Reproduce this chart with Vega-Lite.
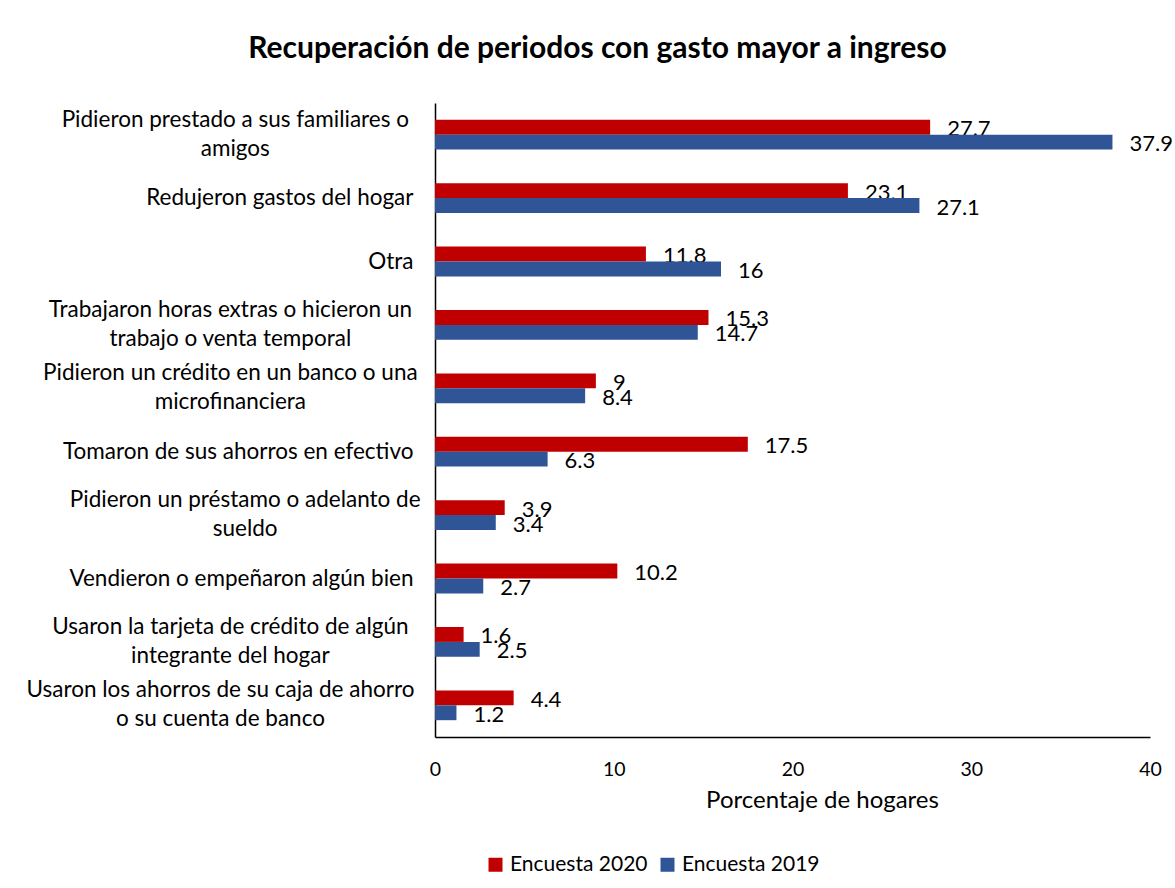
{
  "$schema": "https://vega.github.io/schema/vega-lite/v6.json",
  "width": 715,
  "height": 634,
  "autosize": {"type": "none"},
  "padding": {"left": 435, "top": 103, "right": 25, "bottom": 151},
  "background": "white",
  "title": {
    "text": "Recuperación de periodos con gasto mayor a ingreso",
    "font": "Lato",
    "fontSize": 30,
    "fontWeight": "bold",
    "color": "black",
    "anchor": "middle",
    "frame": "group",
    "baseline": "alphabetic",
    "offset": 15,
    "dx": -195
  },
  "data": {
    "values": [
      {"categoria": "Pidieron prestado a sus familiares o|amigos", "serie": "Encuesta 2020", "valor": 27.7},
      {"categoria": "Pidieron prestado a sus familiares o|amigos", "serie": "Encuesta 2019", "valor": 37.9},
      {"categoria": "Redujeron gastos del hogar", "serie": "Encuesta 2020", "valor": 23.1},
      {"categoria": "Redujeron gastos del hogar", "serie": "Encuesta 2019", "valor": 27.1},
      {"categoria": "Otra", "serie": "Encuesta 2020", "valor": 11.8},
      {"categoria": "Otra", "serie": "Encuesta 2019", "valor": 16},
      {"categoria": "Trabajaron horas extras o hicieron un|trabajo o venta temporal", "serie": "Encuesta 2020", "valor": 15.3},
      {"categoria": "Trabajaron horas extras o hicieron un|trabajo o venta temporal", "serie": "Encuesta 2019", "valor": 14.7},
      {"categoria": "Pidieron un crédito en un banco o una|microfinanciera", "serie": "Encuesta 2020", "valor": 9},
      {"categoria": "Pidieron un crédito en un banco o una|microfinanciera", "serie": "Encuesta 2019", "valor": 8.4},
      {"categoria": "Tomaron de sus ahorros en efectivo", "serie": "Encuesta 2020", "valor": 17.5},
      {"categoria": "Tomaron de sus ahorros en efectivo", "serie": "Encuesta 2019", "valor": 6.3},
      {"categoria": "Pidieron un préstamo o adelanto de|sueldo", "serie": "Encuesta 2020", "valor": 3.9},
      {"categoria": "Pidieron un préstamo o adelanto de|sueldo", "serie": "Encuesta 2019", "valor": 3.4},
      {"categoria": "Vendieron o empeñaron algún bien", "serie": "Encuesta 2020", "valor": 10.2},
      {"categoria": "Vendieron o empeñaron algún bien", "serie": "Encuesta 2019", "valor": 2.7},
      {"categoria": "Usaron la tarjeta de crédito de algún|integrante del hogar", "serie": "Encuesta 2020", "valor": 1.6},
      {"categoria": "Usaron la tarjeta de crédito de algún|integrante del hogar", "serie": "Encuesta 2019", "valor": 2.5},
      {"categoria": "Usaron los ahorros de su caja de ahorro|o su cuenta de banco", "serie": "Encuesta 2020", "valor": 4.4},
      {"categoria": "Usaron los ahorros de su caja de ahorro|o su cuenta de banco", "serie": "Encuesta 2019", "valor": 1.2}
    ]
  },
  "encoding": {
    "y": {
      "field": "categoria",
      "type": "nominal",
      "sort": null,
      "scale": {"paddingInner": 0.53, "paddingOuter": 0.265},
      "axis": {
        "title": null,
        "domainColor": "black",
        "domainWidth": 1.5,
        "ticks": false,
        "labelFont": "Lato",
        "labelFontSize": 22.5,
        "labelColor": "black",
        "labelLineHeight": 29,
        "labelLimit": 0,
        "labelOverlap": false,
        "labelBound": false,
        "labelExpr": "split(datum.value, '|')",
        "labelAlign": {"expr": "indexof(datum.value, '|') >= 0 ? 'center' : 'right'"},
        "labelBaseline": {"expr": "indexof(datum.value, '|') >= 0 ? 'line-bottom' : 'middle'"},
        "labelPadding": {"expr": "indexof(datum.value, '|') >= 0 ? 22 + 4.95 * max(length(split(datum.value, '|')[0]), length(split(datum.value, '|')[1])) : 22"}
      }
    },
    "yOffset": {"field": "serie", "type": "nominal", "sort": ["Encuesta 2020", "Encuesta 2019"]},
    "x": {
      "field": "valor",
      "type": "quantitative",
      "scale": {"domain": [0, 40], "nice": false},
      "axis": {
        "title": "Porcentaje de hogares",
        "titleFont": "Lato",
        "titleFontSize": 24,
        "titleFontWeight": "normal",
        "titleColor": "black",
        "titleX": 387,
        "titleY": 70,
        "titleAlign": "center",
        "titleBaseline": "alphabetic",
        "values": [0, 10, 20, 30, 40],
        "ticks": false,
        "grid": false,
        "domainColor": "black",
        "domainWidth": 1.5,
        "labelFont": "Lato",
        "labelFontSize": 19.5,
        "labelColor": "black",
        "labelPadding": 23,
        "labelFlush": false
      }
    }
  },
  "layer": [
    {
      "mark": {"type": "text", "align": "left", "baseline": "middle", "dx": 17, "dy": 2, "font": "Lato", "fontSize": 22, "color": "black"},
      "encoding": {"text": {"field": "valor", "type": "quantitative", "format": "~g"}}
    },
    {
      "mark": {"type": "bar"},
      "encoding": {
        "color": {
          "field": "serie",
          "type": "nominal",
          "scale": {"domain": ["Encuesta 2020", "Encuesta 2019"], "range": ["#C00000", "#2F5597"]},
          "legend": {
            "title": null,
            "orient": "none",
            "legendX": 50,
            "legendY": 751,
            "direction": "horizontal",
            "symbolType": "square",
            "symbolSize": 196,
            "symbolStrokeWidth": 0,
            "labelFont": "Lato",
            "labelFontSize": 21,
            "labelColor": "black",
            "labelOffset": 4,
            "columnPadding": 9,
            "padding": 0
          }
        }
      }
    }
  ],
  "config": {"view": {"stroke": null}}
}
